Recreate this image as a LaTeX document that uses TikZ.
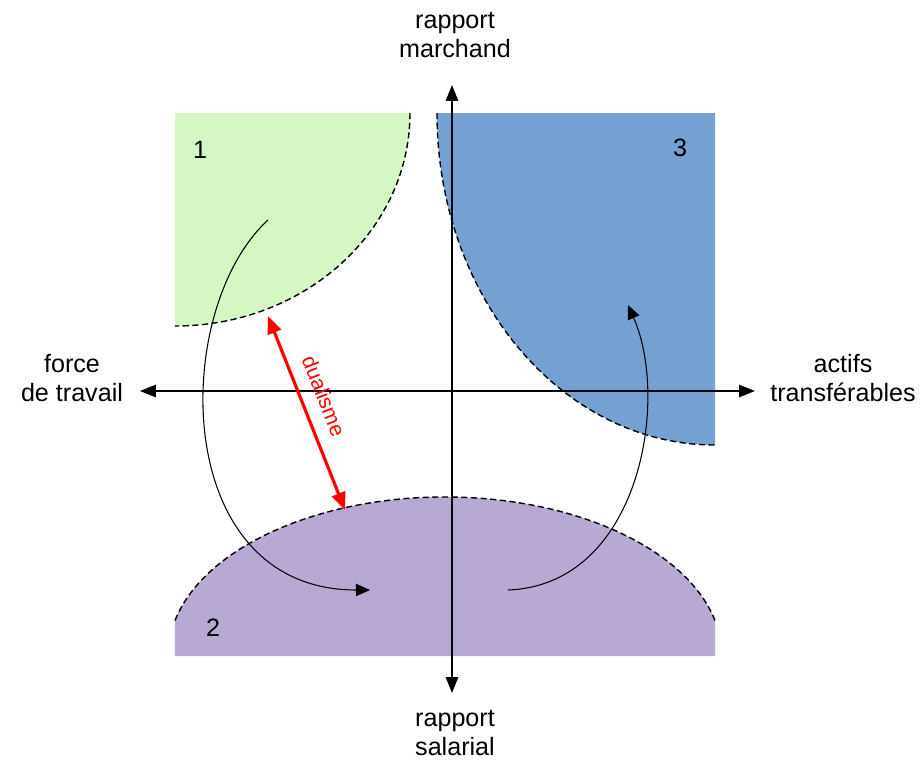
\documentclass[tikz,border=0pt]{standalone}
\usepackage{fontspec}
\setmainfont{Liberation Sans}
\usetikzlibrary{arrows.meta}
\definecolor{zonevert}{RGB}{212,247,196}
\definecolor{zonebleu}{RGB}{116,160,210}
\definecolor{zoneviolet}{RGB}{184,168,212}
\begin{document}
\begin{tikzpicture}[>={Triangle[length=9pt,width=7pt]},
  axe/.style={line width=0.9pt,<->},
  bord/.style={line width=0.8pt,dash pattern=on 3.5pt off 2pt},
  fleche/.style={line width=0.6pt,-{Triangle[length=8pt,width=7pt]}},
  etiq/.style={align=center,font=\fontsize{14.3}{17}\selectfont}]
\useasboundingbox (-9.04,-7.38) rectangle (9.40,7.82);

\fill[zonevert] (-5.54,5.56) -- (-0.84,5.56) arc[start angle=0,end angle=-90,x radius=4.70,y radius=4.26] -- cycle;
\draw[bord] (-0.84,5.56) arc[start angle=0,end angle=-90,x radius=4.70,y radius=4.26];

\fill[zonebleu] (5.26,5.56) -- (-0.30,5.56) arc[start angle=180,end angle=270,x radius=5.56,y radius=6.64] -- cycle;
\draw[bord] (-0.30,5.56) arc[start angle=180,end angle=270,x radius=5.56,y radius=6.64];

\fill[zoneviolet] (-5.54,-5.30) -- (-5.54,-4.59) arc[start angle=167.1,end angle=12.9,x radius=5.54,y radius=3.18] -- (5.26,-5.30) -- cycle;
\draw[bord] (-5.54,-4.59) arc[start angle=167.1,end angle=12.9,x radius=5.54,y radius=3.18];

\node[etiq] (z1) at (-5.04,4.82) {1};
\node[etiq] (z3) at (4.56,4.86) {3};
\node[etiq] (z2) at (-4.78,-4.74) {2};

\node[etiq] (haut) at (0.06,7.12) {rapport\\marchand};
\node[etiq] (bas) at (0.06,-6.84) {rapport\\salarial};
\node[etiq] (gauche) at (-7.60,0.26) {force\\de travail};
\node[etiq] (droite) at (7.82,0.26) {actifs\\transférables};

\coordinate (axeN) at (0,6.12);
\coordinate (axeS) at (0,-6.04);
\coordinate (axeO) at (-6.24,0);
\coordinate (axeE) at (6.06,0);
\draw[axe] (axeS) -- (axeN);
\draw[axe] (axeO) -- (axeE);

\coordinate (depart1) at (-3.68,3.42);
\coordinate (arrivee1) at (-1.64,-3.98);
\draw[fleche] (depart1) .. controls (-5.64,1.62) and (-5.64,-3.98) .. (arrivee1);
\coordinate (depart2) at (1.12,-3.98);
\coordinate (arrivee2) at (3.52,1.72);
\draw[fleche] (depart2) .. controls (3.76,-3.88) and (4.36,-0.18) .. (arrivee2);

\coordinate (dualA) at (-3.68,1.50);
\coordinate (dualB) at (-2.14,-2.38);
\draw[red,line width=1.8pt,{Triangle[length=10pt,width=8pt]}-{Triangle[length=10pt,width=8pt]}] (dualA) -- (dualB);
\node[red,rotate=-68.4,inner sep=0pt,font=\fontsize{12}{14}\selectfont] (dual) at (-2.56,-0.10) {dualisme};
\end{tikzpicture}
\end{document}
